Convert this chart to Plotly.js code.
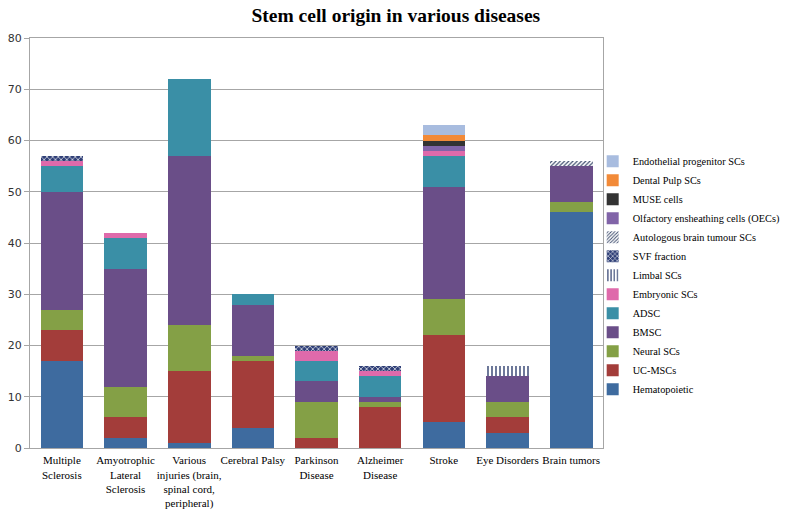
<!DOCTYPE html>
<html>
<head>
<meta charset="utf-8">
<script src="https://cdn.plot.ly/plotly-3.0.1.min.js"></script>
<style>html,body{margin:0;padding:0;background:#fff;}#chart{width:787px;height:513px;}</style>
</head>
<body>
<div id="chart"></div>
<script>
const categories = ["Multiple<br>Sclerosis", "Amyotrophic<br>Lateral<br>Sclerosis", "Various<br>injuries (brain,<br>spinal cord,<br>peripheral)", "Cerebral Palsy", "Parkinson<br>Disease", "Alzheimer<br>Disease", "Stroke", "Eye Disorders", "Brain tumors"];

const hematopoietic = [17, 2, 1, 4, 0, 0, 5, 3, 46];
const ucMscs        = [6, 4, 14, 13, 2, 8, 17, 3, 0];
const neuralScs     = [4, 6, 9, 1, 7, 1, 7, 3, 2];
const bmsc          = [23, 23, 33, 10, 4, 1, 22, 5, 7];
const adsc          = [5, 6, 15, 2, 4, 4, 6, 0, 0];
const embryonicScs  = [1, 1, 0, 0, 2, 1, 1, 0, 0];
const limbalScs     = [0, 0, 0, 0, 0, 0, 0, 2, 0];
const svfFraction   = [1, 0, 0, 0, 1, 1, 0, 0, 0];
const autologousBT  = [0, 0, 0, 0, 0, 0, 0, 0, 1];
const oecs          = [0, 0, 0, 0, 0, 0, 1, 0, 0];
const museCells     = [0, 0, 0, 0, 0, 0, 1, 0, 0];
const dentalPulp    = [0, 0, 0, 0, 0, 0, 1, 0, 0];
const endothelial   = [0, 0, 0, 0, 0, 0, 2, 0, 0];

const yTicks = [0, 10, 20, 30, 40, 50, 60, 70, 80];

function series(name, values, color, pattern) {
  const m = {color: color, line: {width: 0}};
  if (pattern) m.pattern = pattern;
  return {type: 'bar', name: name, x: categories, y: values, marker: m, hoverinfo: 'name+y'};
}

const traces = [
  series('Hematopoietic', hematopoietic, '#3e6b9f'),
  series('UC-MSCs', ucMscs, '#a33d3a'),
  series('Neural SCs', neuralScs, '#84a046'),
  series('BMSC', bmsc, '#6a4e88'),
  series('ADSC', adsc, '#3a8fa6'),
  series('Embryonic SCs', embryonicScs, '#df6aab'),
  series('Limbal SCs', limbalScs, '#ffffff', {shape: '|', fgcolor: '#2f3f6e', bgcolor: '#ffffff', size: 4, solidity: 0.35}),
  series('SVF fraction', svfFraction, '#2f3f77', {shape: 'x', fgcolor: '#ffffff', bgcolor: '#2f3f77', size: 4, solidity: 0.3}),
  series('Autologous brain tumour SCs', autologousBT, '#ffffff', {shape: '/', fgcolor: '#3e4d6e', bgcolor: '#ffffff', size: 3, solidity: 0.4}),
  series('Olfactory ensheathing cells (OECs)', oecs, '#8164a8'),
  series('MUSE cells', museCells, '#333333'),
  series('Dental Pulp SCs', dentalPulp, '#f28a38'),
  series('Endothelial progenitor SCs', endothelial, '#a8bcdf')
];

const layout = {
  width: 787, height: 513,
  paper_bgcolor: '#ffffff', plot_bgcolor: '#ffffff',
  margin: {l: 30, r: 184, t: 38, b: 65, autoexpand: false},
  barmode: 'stack',
  bargap: 0.33,
  showlegend: true,
  title: {text: '<b>Stem cell origin in various diseases</b>', x: 0.503, xanchor: 'center', y: 0.971, yanchor: 'middle',
          font: {family: 'Liberation Serif, Times New Roman, serif', size: 19.5, color: '#000'}},
  legend: {x: 0.982, xanchor: 'left', y: 0.735, yanchor: 'top', traceorder: 'reversed',
           font: {family: 'Liberation Serif, Times New Roman, serif', size: 10.3, color: '#000'},
           itemwidth: 30, bgcolor: 'rgba(0,0,0,0)', tracegroupgap: 0},
  xaxis: {showline: true, linecolor: '#a6a6a6', linewidth: 1, mirror: true, ticks: '', showgrid: false,
          ticklabelstandoff: 2,
          tickfont: {family: 'Liberation Serif, Times New Roman, serif', size: 11, color: '#000'}, tickangle: 0},
  yaxis: {range: [0, 80], tickvals: yTicks, ticktext: yTicks.map(String), showgrid: true, gridcolor: '#a6a6a6', gridwidth: 1,
          showline: true, linecolor: '#a6a6a6', mirror: true, ticks: 'outside', ticklen: 5, tickcolor: '#a6a6a6',
          zeroline: false,
          tickfont: {family: 'DejaVu Sans, Verdana, sans-serif', size: 11, color: '#333'}}
};

Plotly.newPlot('chart', traces, layout, {displayModeBar: false, staticPlot: true});
</script>
</body>
</html>
